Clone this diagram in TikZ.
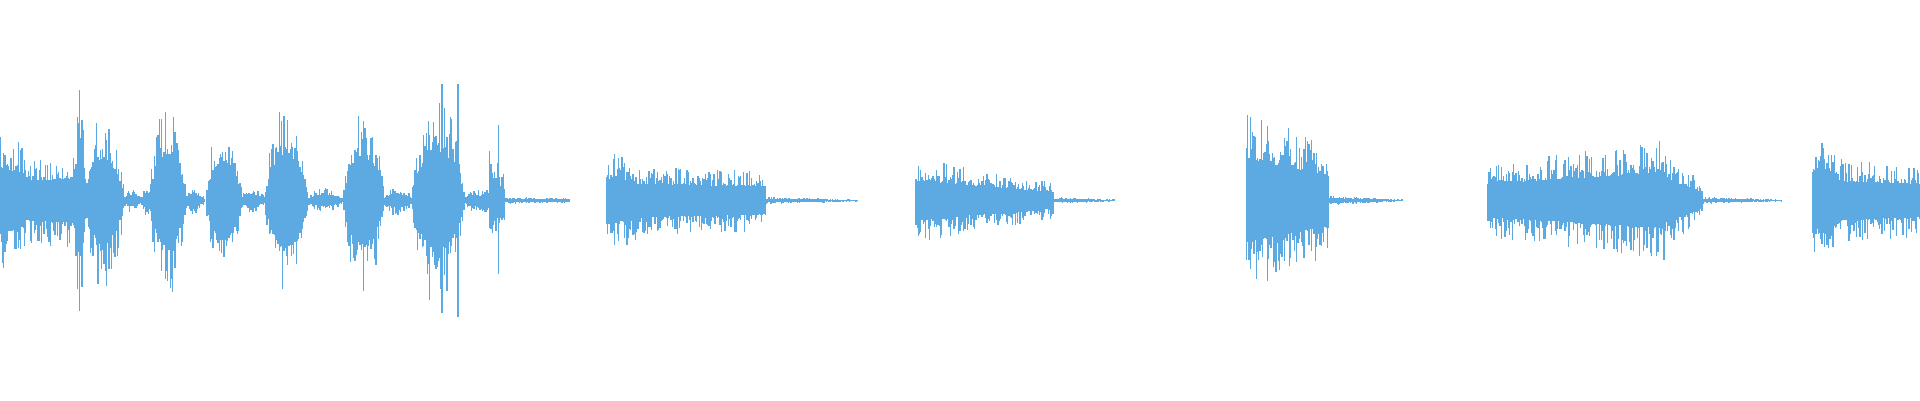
\documentclass[tikz,border=0pt]{standalone}
\usepackage{tikz}

\definecolor{wave}{HTML}{5DA9E2}

\begin{document}
\begin{tikzpicture}[
    x=0.012245cm, y=0.012245cm,
    trace/.style={draw=wave, line width=0.35pt}
]

    % Frame ------------------------------------------------------

    \useasboundingbox (0,0) rectangle (1568,326.7);
    \pgfmathsetseed{7}

    % Bursts: start/end/amp at start/amp at end/hump -------------

    \foreach \xa/\xb/\aa/\ab/\hm in {
        0/20/60/45/0, 20/62/35/40/0, 60/70/95/95/1, 68/102/80/70/1,
        100/117/12/8/1, 115/127/14/14/1, 122/152/85/80/1, 150/168/15/8/1,
        168/198/75/65/1, 196/218/14/8/1, 216/252/88/80/1, 250/282/12/8/1,
        280/314/80/75/1, 312/338/14/10/1, 336/380/92/85/1, 378/400/12/8/1,
        392/402/14/14/1, 400/412/45/20/0, 412/465/3/2/0,
        495/520/40/35/0, 520/625/30/25/0, 625/700/3/1/0,
        748/860/35/15/0, 860/910/3/1/0,
        1018/1085/75/45/0, 1085/1145/4/1/0,
        1215/1360/30/50/0, 1360/1390/40/15/0, 1390/1455/3/1/0,
        1480/1500/50/45/0, 1500/1568/35/30/0} {
        \foreach \x in {\xa,...,\xb} {
            \pgfmathsetmacro\t{(\x-\xa)/max(\xb-\xa,1)}
            \pgfmathsetmacro\env{(\aa+(\ab-\aa)*\t)*(\hm==1 ? sin(180*\t)^0.7 : 1)}
            \pgfmathsetmacro\up{\env*(0.45+0.55*rnd^2)}
            \pgfmathsetmacro\dn{\env*(0.45+0.55*rnd^2)}
            \draw[trace] (\x,163-\dn) -- (\x,163+\up);
        }
    }

    % Spikes -----------------------------------------------------

    \draw[trace] (374,163-95) -- (374,163+95);
    \draw[trace] (407,163-60) -- (407,163+62);
    \draw[trace] (65,163-90) -- (65,163+90);
    \draw[trace] (361,163-92) -- (361,163+95);

\end{tikzpicture}
\end{document}
